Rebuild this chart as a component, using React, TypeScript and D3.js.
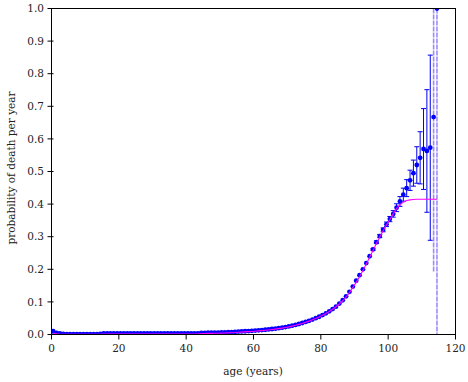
import React from 'react';
import * as d3 from 'd3';

// ages (years) 0..114, plotted at mid-year
const ages = d3.range(0, 115);

// observed probability of death per year (blue points)
const deathRate = [
  0.010, 0.005, 0.003, 0.002, 0.0012, 0.0010, 0.0010, 0.0010, 0.0010, 0.0010,
  0.0010, 0.0010, 0.0010, 0.0010, 0.0015, 0.0030, 0.0032, 0.0033, 0.0034, 0.0034,
  0.0034, 0.0034, 0.0034, 0.0034, 0.0034, 0.0034, 0.0034, 0.0034, 0.0034, 0.0034,
  0.0035, 0.0035, 0.0035, 0.0035, 0.0035, 0.0035, 0.0035, 0.0035, 0.0035, 0.0035,
  0.0037, 0.0037, 0.0037, 0.0037, 0.0050, 0.0052, 0.0054, 0.0056, 0.0058, 0.0060,
  0.0063, 0.0066, 0.0070, 0.0075, 0.0080, 0.0090, 0.0095, 0.0100, 0.0106, 0.0112,
  0.0120, 0.0128, 0.0137, 0.0146, 0.0156, 0.0168, 0.0180, 0.0194, 0.0210, 0.0228,
  0.0248, 0.0270, 0.0295, 0.0322, 0.0352, 0.0385, 0.0420, 0.0458, 0.0500, 0.0545,
  0.0595, 0.0650, 0.0712, 0.0780, 0.0855, 0.095, 0.105, 0.117, 0.131, 0.147,
  0.165, 0.182, 0.200, 0.219, 0.240, 0.261, 0.283, 0.302, 0.321, 0.338,
  0.354, 0.370, 0.389, 0.408, 0.429, 0.449, 0.473, 0.495, 0.520, 0.542,
  0.569, 0.563, 0.573, 0.667, 1.0,
];

// fitted model (magenta line)
const fitRate = [
  0.004, 0.002, 0.001, 0.0003, 0.0003, 0.0003, 0.0003, 0.0003, 0.0003, 0.0003,
  0.0003, 0.0003, 0.0003, 0.0003, 0.0004, 0.0010, 0.0010, 0.0010, 0.0010, 0.0010,
  0.0010, 0.0010, 0.0010, 0.0010, 0.0010, 0.0010, 0.0010, 0.0010, 0.0010, 0.0010,
  0.0012, 0.0012, 0.0012, 0.0012, 0.0012, 0.0012, 0.0012, 0.0012, 0.0012, 0.0012,
  0.0015, 0.0015, 0.0015, 0.0015, 0.0030, 0.0032, 0.0034, 0.0036, 0.0038, 0.0040,
  0.0043, 0.0046, 0.0050, 0.0055, 0.0060, 0.0068, 0.0074, 0.0080, 0.0087, 0.0094,
  0.0102, 0.0110, 0.0119, 0.0129, 0.0140, 0.0152, 0.0165, 0.0180, 0.0196, 0.0214,
  0.0234, 0.0257, 0.0282, 0.0310, 0.0340, 0.0374, 0.0410, 0.0450, 0.0492, 0.0538,
  0.0590, 0.0645, 0.0707, 0.0775, 0.0850, 0.0935, 0.1035, 0.1150, 0.1285, 0.1440,
  0.160, 0.177, 0.196, 0.216, 0.237, 0.258, 0.279, 0.299, 0.318, 0.336,
  0.353, 0.370, 0.386, 0.398, 0.406, 0.411, 0.413, 0.414, 0.415, 0.415,
  0.415, 0.415, 0.415, 0.415, 0.415,
];

// error bars (± half-width) for the oldest ages
const errAges = [95, 96, 97, 98, 99, 100, 101, 102, 103, 104, 105, 106, 107, 108, 109, 110, 111, 112, 113, 114];
const errValues = [0.003, 0.004, 0.005, 0.006, 0.007, 0.008, 0.010, 0.012, 0.015, 0.020,
  0.026, 0.031, 0.040, 0.056, 0.080, 0.124, 0.188, 0.284, 0.475, 1.0];

const xTicks = [0, 20, 40, 60, 80, 100, 120];
const yTicks = [0, 0.1, 0.2, 0.3, 0.4, 0.5, 0.6, 0.7, 0.8, 0.9, 1.0];

export default function App() {
  const W = 468, H = 382;
  const x = d3.scaleLinear().domain([0, 120]).range([51.5, 455.5]);
  const y = d3.scaleLinear().domain([0, 1]).range([334.5, 8.5]);
  const font = "'DejaVu Serif', serif";
  const fs = 10.5;
  const line = d3.line<number>().x((_, i) => x(ages[i] + 0.5)).y((d) => y(d));
  const fitPath = line(fitRate) || '';
  const [x0, x1] = x.range();
  const [yb, yt] = y.range();

  return (
    <div style={{ position: 'fixed', left: 0, top: 0 }}>
      <svg width={W} height={H} style={{ display: 'block', background: '#fff' }}>
        <defs>
          <clipPath id="plotclip">
            <rect x={x0} y={yt} width={x1 - x0} height={yb - yt} />
          </clipPath>
        </defs>
        <g clipPath="url(#plotclip)">
          {errAges.map((a, i) => {
            const v = deathRate[a];
            const e = errValues[i];
            const cx = x(a + 0.5);
            const over = v + e > 1 || v - e < 0;
            const col = over ? '#9b8cfb' : '#0000ee';
            return (
              <g key={'e' + a}>
                <line x1={cx} x2={cx} y1={y(Math.min(v + e, 1.0))} y2={y(Math.max(v - e, 0))}
                  stroke={col} strokeWidth={over ? 1.6 : 1} strokeDasharray={over ? '5 1' : undefined} />
                {!over && (
                  <>
                    <line x1={cx - 2.5} x2={cx + 2.5} y1={y(v + e)} y2={y(v + e)} stroke={col} strokeWidth={1} />
                    <line x1={cx - 2.5} x2={cx + 2.5} y1={y(v - e)} y2={y(v - e)} stroke={col} strokeWidth={1} />
                  </>
                )}
              </g>
            );
          })}
          {deathRate.map((v, i) => (
            <circle key={'p' + i} cx={x(ages[i] + 0.5)} cy={y(v)} r={2.4} fill="#0000ff" />
          ))}
          <path d={fitPath} fill="none" stroke="#ff00ff" strokeWidth={1.1} />
        </g>
        <rect x={x0} y={yt} width={x1 - x0} height={yb - yt} fill="none" stroke="#000" strokeWidth={1} />
        {yTicks.map((t) => (
          <g key={'yt' + t}>
            <line x1={x0 - 4} x2={x0 + 2} y1={y(t)} y2={y(t)} stroke="#000" strokeWidth={1} />
            <text x={44} y={y(t)} dy="0.35em" textAnchor="end" fontFamily={font} fontSize={fs} fill="#222">
              {t.toFixed(1)}
            </text>
          </g>
        ))}
        {xTicks.map((t) => (
          <g key={'xt' + t}>
            <line x1={x(t)} x2={x(t)} y1={yb} y2={yb + 5} stroke="#000" strokeWidth={1} />
            <text x={x(t)} y={352} textAnchor="middle" fontFamily={font} fontSize={fs} fill="#222">
              {t}
            </text>
          </g>
        ))}
        <text x={253} y={375} textAnchor="middle" fontFamily={font} fontSize={fs} fill="#222">
          age (years)
        </text>
        <text transform="translate(15,168) rotate(-90)" textAnchor="middle" fontFamily={font} fontSize={fs} fill="#222">
          probability of death per year
        </text>
      </svg>
    </div>
  );
}
